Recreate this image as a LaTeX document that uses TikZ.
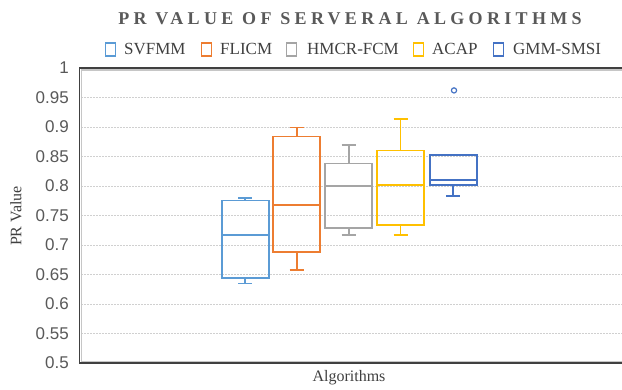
\documentclass[tikz,border=0pt]{standalone}
\usepackage{fontspec}
\setmainfont{Liberation Serif}
\newfontfamily\titlefont[LetterSpace=24]{Liberation Serif}
\newfontfamily\tickfont{Liberation Sans}

\definecolor{cSV}{HTML}{5B9BD5}
\definecolor{cFL}{HTML}{ED7D31}
\definecolor{cHM}{HTML}{A5A5A5}
\definecolor{cAC}{HTML}{FFC000}
\definecolor{cGM}{HTML}{4472C4}
\definecolor{txtgray}{HTML}{595959}
\definecolor{gridgray}{HTML}{D0D0D0}
\definecolor{framedark}{HTML}{404040}

\tikzset{
  gridline/.style={gridgray, line width=0.9pt, dash pattern=on 2pt off 1pt},
  boxline/.style={line width=1.7pt},
  legsq/.style={line width=1.1pt},
  legtext/.style={anchor=base west, inner sep=0pt, font=\fontsize{17}{20}\selectfont, text=framedark},
  ticklabel/.style={anchor=east, inner sep=0pt, font=\tickfont\fontsize{17}{20}\selectfont, text=txtgray},
  axtitle/.style={inner sep=0pt, font=\fontsize{16}{19}\selectfont, text=framedark},
}

% box plot: colour, centre x, lower whisker, Q1, median, Q3, upper whisker
\newcommand{\drawbox}[7]{%
  \draw[boxline, #1] (#2-23.5,#4) rectangle (#2+23.5,#6);
  \draw[boxline, #1] (#2-23.5,#5) -- (#2+23.5,#5);
  \draw[boxline, #1] (#2,#4) -- (#2,#3) (#2-7,#3) -- (#2+7,#3);
  \draw[boxline, #1] (#2,#6) -- (#2,#7) (#2-7,#7) -- (#2+7,#7);
}

\begin{document}
\begin{tikzpicture}[x=1pt, y=1pt]
\useasboundingbox (0,0) rectangle (622,389);
\fill[white] (0,0) rectangle (622,389);

% title
\node[inner sep=0pt, font=\titlefont\bfseries\fontsize{18}{21}\selectfont, text=txtgray]
  (title) at (350,370) {PR VALUE OF SERVERAL ALGORITHMS};

% legend
\draw[legsq, cSV] (105.5,333) rectangle (115.5,346);
\node[legtext] (l1) at (124,334) {SVFMM};
\draw[legsq, cFL] (201.5,333) rectangle (211.5,346);
\node[legtext] (l2) at (220,334) {FLICM};
\draw[legsq, cHM] (286.5,333) rectangle (296.5,346);
\node[legtext] (l3) at (307,334) {HMCR-FCM};
\draw[legsq, cAC] (413.5,333) rectangle (423.5,346);
\node[legtext] (l4) at (432,334) {ACAP};
\draw[legsq, cGM] (493.5,333) rectangle (503.5,346);
\node[legtext] (l5) at (513,334) {GMM-SMSI};

% axis titles
\node[axtitle, rotate=90] (ytitle) at (16,173) {PR Value};
\node[axtitle] (xtitle) at (349,11) {Algorithms};

% value axis: v maps to -269 + 590 v
\begin{scope}[yshift=-269pt, y=590pt]
  \foreach \v in {0.55,0.6,0.65,0.7,0.75,0.8,0.85,0.9,0.95}
    \draw[gridline] (81,\v) -- (622,\v);
  \foreach \v/\t in {1/1,0.95/0.95,0.9/0.9,0.85/0.85,0.8/0.8,0.75/0.75,0.7/0.7,0.65/0.65,0.6/0.6,0.55/0.55,0.5/0.5}
    \node[ticklabel] at (69,\v) {\t};

  % plot frame with inner shadow
  \draw[line width=1.6pt, gray!45] (81.5,0.5) -- (81.5,0.997) (81,0.5025) -- (622,0.5025);
  \draw[line width=1.2pt, gray!45] (81,0.9965) -- (622,0.9965);
  \draw[line width=1.3pt, framedark] (622,1) -- (79.5,1) -- (79.5,0.5) -- (622,0.5);

  \drawbox{cSV}{245.2}{0.6345}{0.6443}{0.7173}{0.7756}{0.780}
  \drawbox{cFL}{296.7}{0.658}{0.6876}{0.7677}{0.884}{0.899}
  \drawbox{cHM}{348.7}{0.7168}{0.7288}{0.7996}{0.838}{0.870}
  \drawbox{cAC}{400.5}{0.717}{0.734}{0.8013}{0.860}{0.914}
  \drawbox{cGM}{453.3}{0.7825}{0.8013}{0.81}{0.852}{0.852}
  \draw[line width=1.2pt, cGM] (454,0.962) circle[radius=2.6pt];
\end{scope}
\end{tikzpicture}
\end{document}
